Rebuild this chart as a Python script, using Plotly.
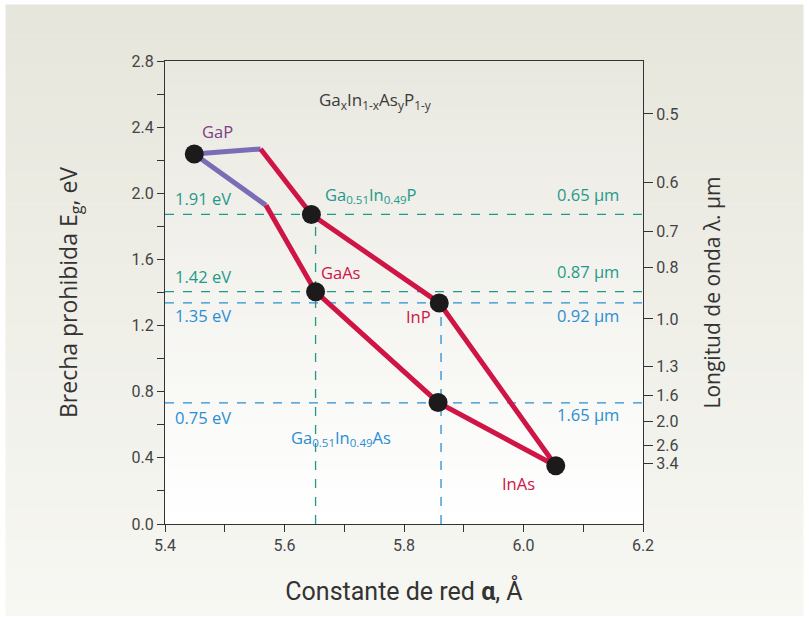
import plotly.graph_objects as go

# ---- data ----
red_x = [5.560, 5.645, 5.859, 6.054, 5.857, 5.652, 5.569]
red_y = [2.268, 1.872, 1.337, 0.352, 0.735, 1.405, 1.927]
purple_x = [5.569, 5.449, 5.560]
purple_y = [1.927, 2.238, 2.268]
pts_x = [5.449, 5.645, 5.652, 5.859, 5.857, 6.054]
pts_y = [2.238, 1.872, 1.405, 1.337, 0.735, 0.352]

hline_green = [1.872, 1.405]
hline_blue = [1.337, 0.732]
vline_green_x = 5.652
vline_green_top = 1.872
vline_blue_x = 5.862
vline_blue_top = 1.337

y_ticks = [0.0, 0.2, 0.4, 0.6, 0.8, 1.0, 1.2, 1.4, 1.6, 1.8, 2.0, 2.2, 2.4, 2.6, 2.8]
x_ticks = [5.4, 5.5, 5.6, 5.7, 5.8, 5.9, 6.0, 6.1, 6.2]
wl_labels = ["0.5", "0.6", "0.7", "0.8", "1.0", "1.3", "1.6", "2.0", "2.6", "3.4"]
wl_values = [0.5, 0.6, 0.7, 0.8, 1.0, 1.3, 1.6, 2.0, 2.6, 3.4]

RED = "#cf1446"
PURPLE = "#7a6db5"
TEAL = "#1f9a8a"
BLUE = "#2a8ed3"
TXT = "#3a3a3a"
NARROW = "Roboto, sans-serif"
LABF = "Open Sans, Lato, sans-serif"

fig = go.Figure()

# plot area geometry in pixels (for background panels)
L, R, T, B = 165.3, 642.7, 61.4, 524.5
W, H = R - L, B - T
def px_x(p):
    return (p - L) / W
def px_y(p):
    return (B - p) / H

shapes = []
def lerp(c1, c2, t):
    return "rgb(%d,%d,%d)" % tuple(round(a + (b - a) * t) for a, b in zip(c1, c2))

# outer panel gradient
n = 40
top_c, bot_c = (231, 230, 220), (247, 247, 243)
y0p, y1p = 5, 616
for i in range(n):
    ya = y0p + (y1p - y0p) * i / n
    yb = y0p + (y1p - y0p) * (i + 1) / n + 0.6
    shapes.append(dict(type="rect", xref="paper", yref="paper", layer="below",
                       x0=px_x(6), x1=px_x(803), y0=px_y(yb), y1=px_y(ya),
                       fillcolor=lerp(top_c, bot_c, i / (n - 1)), line=dict(width=0)))
# inner plot gradient
itop, ibot = (233, 232, 224), (255, 255, 255)
for i in range(n):
    ya = T + H * i / n
    yb = T + H * (i + 1) / n + 0.6
    shapes.append(dict(type="rect", xref="paper", yref="paper", layer="below",
                       x0=0, x1=1, y0=px_y(min(yb, B)), y1=px_y(ya),
                       fillcolor=lerp(itop, ibot, i / (n - 1)), line=dict(width=0)))

# dashed reference lines
dl = dict(width=1.3, dash="dash")
for yv in hline_green:
    shapes.append(dict(type="line", xref="paper", yref="y", x0=0, x1=1, y0=yv, y1=yv,
                       layer="below", line=dict(color=TEAL, **dl)))
for yv in hline_blue:
    shapes.append(dict(type="line", xref="paper", yref="y", x0=0, x1=1, y0=yv, y1=yv,
                       layer="below", line=dict(color=BLUE, **dl)))
shapes.append(dict(type="line", xref="x", yref="y", x0=vline_green_x, x1=vline_green_x,
                   y0=0, y1=vline_green_top, layer="below", line=dict(color=TEAL, **dl)))
shapes.append(dict(type="line", xref="x", yref="y", x0=vline_blue_x, x1=vline_blue_x,
                   y0=0, y1=vline_blue_top, layer="below", line=dict(color=BLUE, **dl)))

fig.add_trace(go.Scatter(x=purple_x, y=purple_y, mode="lines",
                         line=dict(color=PURPLE, width=5), showlegend=False, hoverinfo="skip"))
fig.add_trace(go.Scatter(x=red_x, y=red_y, mode="lines",
                         line=dict(color=RED, width=5), showlegend=False, hoverinfo="skip"))
fig.add_trace(go.Scatter(x=pts_x, y=pts_y, mode="markers",
                         marker=dict(color="#1c1a1b", size=19), showlegend=False))
# invisible trace for right axis
fig.add_trace(go.Scatter(x=[5.4], y=[0], yaxis="y2", mode="markers",
                         marker=dict(opacity=0), showlegend=False, hoverinfo="skip"))

ann = []
def A(x, y, text, color, size=16.5, xanchor="center", font=LABF):
    ann.append(dict(x=x, y=y, xref="x", yref="y", text=text, showarrow=False,
                    xanchor=xanchor, yanchor="middle",
                    font=dict(color=color, size=size, family=font)))

A(5.751, 2.564, "Ga<sub>x</sub>In<sub>1-x</sub>As<sub>y</sub>P<sub>1-y</sub>", TXT, 17)
A(5.488, 2.375, "GaP", "#7d3f86")
A(5.664, 1.99, "Ga<sub>0.51</sub>In<sub>0.49</sub>P", TEAL, xanchor="left")
A(5.414, 1.968, "1.91 eV", TEAL, xanchor="left")
A(6.163, 1.995, "0.65 µm", TEAL, xanchor="right")
A(5.414, 1.496, "1.42 eV", TEAL, xanchor="left")
A(6.163, 1.527, "0.87 µm", TEAL, xanchor="right")
A(5.657, 1.52, "GaAs", RED, xanchor="left")
A(5.414, 1.26, "1.35 eV", BLUE, xanchor="left")
A(6.163, 1.26, "0.92 µm", BLUE, xanchor="right")
A(5.824, 1.255, "InP", RED)
A(5.414, 0.644, "0.75 eV", BLUE, xanchor="left")
A(6.163, 0.662, "1.65 µm", BLUE, xanchor="right")
A(5.607, 0.52, "Ga<sub>0.51</sub>In<sub>0.49</sub>As", BLUE, xanchor="left")
A(5.991, 0.245, "InAs", RED)

y_text = [("%.1f" % v) if round(v / 0.4 * 10) % 10 == 0 else "" for v in y_ticks]
x_text = [("%.1f" % v) if round(v * 10) % 2 == 0 else "" for v in x_ticks]

fig.update_layout(
    width=809, height=617,
    margin=dict(l=165.3, r=809 - 642.7, t=61.4, b=617 - 524.5),
    paper_bgcolor="white", plot_bgcolor="rgba(0,0,0,0)",
    shapes=shapes, annotations=ann,
    xaxis=dict(range=[5.4, 6.2], tickvals=x_ticks, ticktext=x_text, ticks="outside",
               ticklen=7, tickcolor="#333", showline=True, linecolor="#333", linewidth=1.3,
               mirror=True, showgrid=False, zeroline=False,
               tickfont=dict(family=NARROW, size=16, color="#444"),
               title=dict(text="Constante de red <b>α</b>, Å",
                          font=dict(family=NARROW, size=25, color="#333"), standoff=28)),
    yaxis=dict(range=[0, 2.8], tickvals=y_ticks, ticktext=y_text, ticks="outside",
               ticklen=7, tickcolor="#333", showline=True, linecolor="#333", linewidth=1.3,
               showgrid=False, zeroline=False,
               tickfont=dict(family=NARROW, size=16, color="#444"),
               title=dict(text="Brecha prohibida E<sub>g</sub>, eV",
                          font=dict(family=LABF, size=23, color="#333"), standoff=47)),
    yaxis2=dict(range=[0, 2.8], overlaying="y", side="right",
                tickvals=[1.24 / w for w in wl_values], ticktext=wl_labels,
                ticks="outside", ticklen=9, tickcolor="#333", showline=True,
                linecolor="#333", linewidth=1.3, showgrid=False, zeroline=False,
                tickfont=dict(family=NARROW, size=16, color="#444"),
                title=dict(text="Longitud de onda λ. µm",
                           font=dict(family=LABF, size=21, color="#333"), standoff=27)),
)

fig.write_html("out.html")
